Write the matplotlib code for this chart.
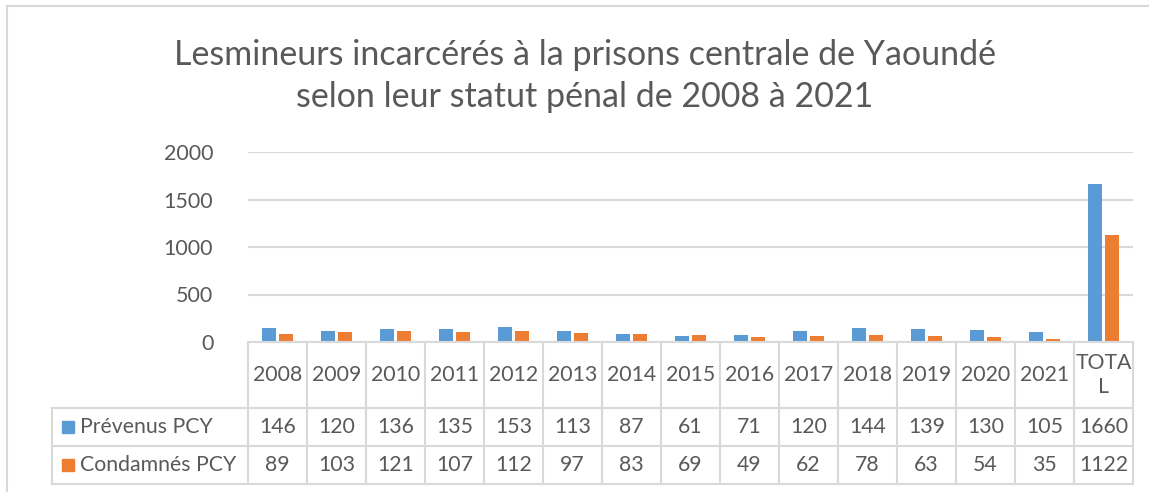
import matplotlib
matplotlib.use("Agg")
import matplotlib.pyplot as plt
from matplotlib.lines import Line2D
from matplotlib.patches import Rectangle
from matplotlib.transforms import blended_transform_factory

categories = ["2008", "2009", "2010", "2011", "2012", "2013", "2014", "2015",
              "2016", "2017", "2018", "2019", "2020", "2021", "TOTA\nL"]
prevenus = [146, 120, 136, 135, 153, 113, 87, 61, 71, 120, 144, 139, 130, 105, 1660]
condamnes = [89, 103, 121, 107, 112, 97, 83, 69, 49, 62, 78, 63, 54, 35, 1122]
series_names = ["Prévenus PCY", "Condamnés PCY"]
title = "Lesmineurs incarcérés à la prisons centrale de Yaoundé\nselon leur statut pénal de 2008 à 2021"

BLUE = "#5B9BD5"
ORANGE = "#ED7D31"
TXT = "#595959"
GRID = "#D9D9D9"
FONT = "Lato"

W, H = 1149, 492
fig = plt.figure(figsize=(W / 100, H / 100), dpi=100)
plt.rcParams['font.family'] = [FONT, 'DejaVu Sans']

# axes in pixel placement
x0, x1, ytop, ybot = 248, 1133, 152, 342
ax = fig.add_axes([x0 / W, (H - ybot) / H, (x1 - x0) / W, (ybot - ytop) / H])

n = len(categories)
xs = list(range(n))
bw = 0.235
off = 0.148
ax.bar([x - off for x in xs], prevenus, width=bw, color=BLUE, zorder=3)
ax.bar([x + off for x in xs], condamnes, width=bw, color=ORANGE, zorder=3)
ax.set_xlim(-0.5, n - 0.5)
ax.set_ylim(0, 2000)
ax.set_yticks([0, 500, 1000, 1500, 2000])
ax.yaxis.grid(True, color=GRID, lw=1.5, zorder=0)
ax.set_xticks([])
for s in ax.spines.values():
    s.set_visible(False)
ax.tick_params(axis='y', length=0, pad=25, labelsize=15.5, labelcolor=TXT)

# table
tr = blended_transform_factory(ax.transData, fig.transFigure)
def fy(py):
    return (H - py) / H

y_hdr_top, y_hdr_bot, y_r1_bot, y_r2_bot = 342, 408, 446, 484
label_left = -0.5 - (x0 - 52) / ((x1 - x0) / n)

def hline(xa, xb, py):
    fig.add_artist(Line2D([xa, xb], [fy(py), fy(py)], transform=tr, color=GRID, lw=1.5))
def vline(x, pa, pb):
    fig.add_artist(Line2D([x, x], [fy(pa), fy(pb)], transform=tr, color=GRID, lw=1.5))

hline(-0.5, n - 0.5, y_hdr_top)
hline(label_left, n - 0.5, y_hdr_bot)
hline(label_left, n - 0.5, y_r1_bot)
hline(label_left, n - 0.5, y_r2_bot)
for i in range(n + 1):
    vline(i - 0.5, y_hdr_top, y_r2_bot)
vline(label_left, y_hdr_bot, y_r2_bot)

fs = 15.3
for i, c in enumerate(categories):
    fig.text(i, fy((y_hdr_top + y_hdr_bot) / 2), c, transform=tr, ha='center', va='center',
             fontsize=fs, color=TXT, linespacing=1.3)
    fig.text(i, fy((y_hdr_bot + y_r1_bot) / 2), str(prevenus[i]), transform=tr, ha='center',
             va='center', fontsize=fs, color=TXT)
    fig.text(i, fy((y_r1_bot + y_r2_bot) / 2), str(condamnes[i]), transform=tr, ha='center',
             va='center', fontsize=fs, color=TXT)

for k, (name, col) in enumerate(zip(series_names, [BLUE, ORANGE])):
    yc = (y_hdr_bot + y_r1_bot) / 2 if k == 0 else (y_r1_bot + y_r2_bot) / 2
    fig.add_artist(Rectangle((62 / W, fy(yc + 6)), 12 / W, 12 / H, transform=fig.transFigure,
                             color=col))
    fig.text(80 / W, fy(yc), name, ha='left', va='center', fontsize=fs, color=TXT)

# title
fig.text(585 / W, fy(76), title, ha='center', va='center', fontsize=24.5, color=TXT,
         linespacing=1.42)

# chart border
fig.add_artist(Line2D([7 / W, 1], [fy(6), fy(6)], transform=fig.transFigure, color=GRID, lw=1.5))
fig.add_artist(Line2D([7 / W, 7 / W], [fy(6), 0], transform=fig.transFigure, color=GRID, lw=1.5))

fig.savefig("out.png", dpi=100)
